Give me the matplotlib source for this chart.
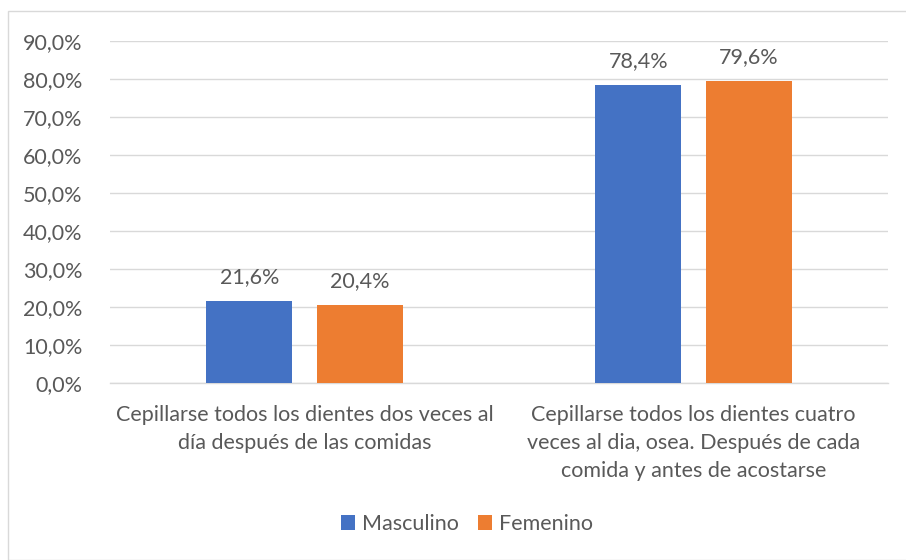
import matplotlib.pyplot as plt
import numpy as np
from matplotlib.patches import Rectangle

plt.rcParams['font.family'] = ['Lato', 'DejaVu Sans']

# data
categories = ['Cepillarse todos los dientes dos veces al\ndía después de las comidas',
              'Cepillarse todos los dientes cuatro\nveces al dia, osea. Después de cada\ncomida y antes de acostarse']
series = ['Masculino', 'Femenino']
masculino = [21.6, 78.4]
femenino = [20.4, 79.6]
colors = ['#4472C4', '#ED7D31']
text_gray = '#595959'
fs = 15.5

fig = plt.figure(figsize=(9.06, 5.60), dpi=100)
fig.patches.append(Rectangle((8 / 906, 0), 1, 1 - 11 / 560, transform=fig.transFigure,
                             fill=False, edgecolor='#D9D9D9', linewidth=1))
ax = fig.add_axes([110 / 906, 1 - 383 / 560, 778 / 906, 342 / 560])

x = np.arange(len(categories))
w = 0.222
offs = [-0.142, 0.142]
for vals, off, c, name in zip([masculino, femenino], offs, colors, series):
    bars = ax.bar(x + off, vals, w, color=c, label=name, zorder=3)
    for b, v in zip(bars, vals):
        ax.annotate(('%.1f%%' % v).replace('.', ','), (b.get_x() + b.get_width() / 2, v),
                    xytext=(0, 10), textcoords='offset points', ha='center', va='bottom',
                    fontsize=fs, color=text_gray)

ax.set_xlim(-0.5, 1.5)
ax.set_ylim(0, 90)
ticks = np.arange(0, 91, 10)
ax.set_yticks(ticks)
ax.set_yticklabels([('%.1f%%' % t).replace('.', ',') for t in ticks], fontsize=fs, color=text_gray)
ax.set_xticks(x)
ax.set_xticklabels(categories, fontsize=fs, color=text_gray, linespacing=1.48)
ax.tick_params(axis='both', length=0)
ax.tick_params(axis='y', pad=20)
ax.tick_params(axis='x', pad=16)
ax.yaxis.grid(True, color='#D9D9D9', linewidth=1, zorder=0)
for s in ['top', 'right', 'left']:
    ax.spines[s].set_visible(False)
ax.spines['bottom'].set_color('#D9D9D9')
ax.spines['bottom'].set_linewidth(1)

fig.legend(loc='center', bbox_to_anchor=(467 / 906, 1 - 524 / 560), ncol=2, frameon=False,
           fontsize=fs, labelcolor=text_gray, handlelength=0.65, handleheight=0.65,
           handletextpad=0.3, columnspacing=0.9)

fig.savefig('out.png', dpi=100)
